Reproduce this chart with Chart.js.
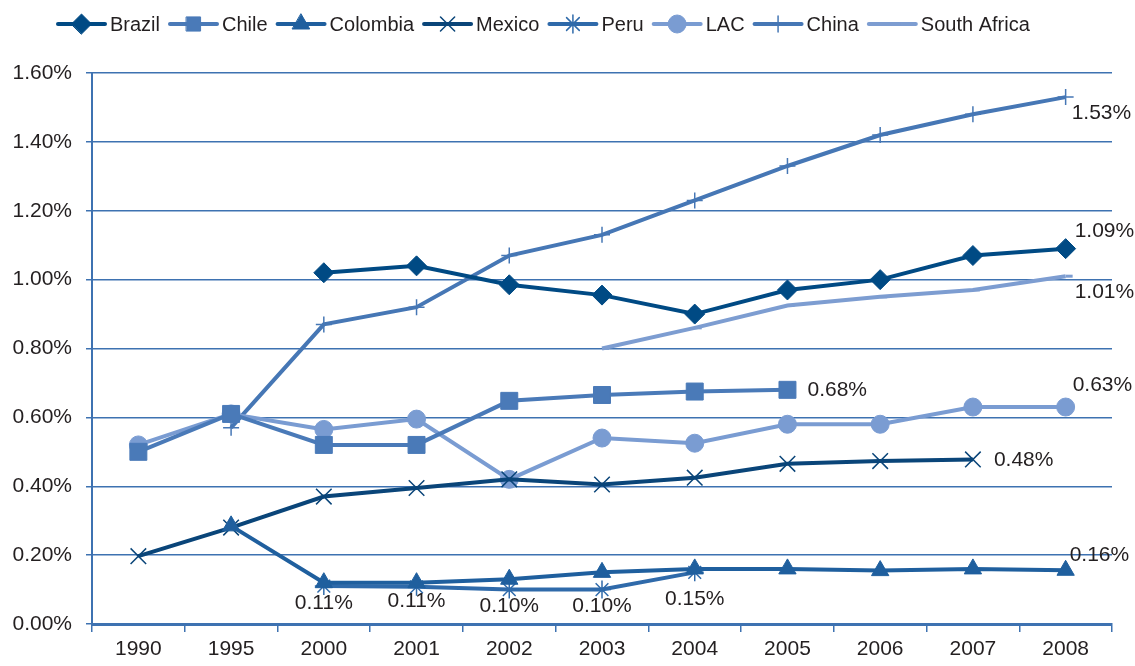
<!DOCTYPE html>
<html>
<head>
<meta charset="utf-8">
<script src="https://cdn.jsdelivr.net/npm/chart.js@4/dist/chart.umd.min.js"></script>
<style>
  html, body { margin: 0; padding: 0; background: #fff; }
  #wrap { width: 1135px; height: 666px; }
</style>
</head>
<body>
<div id="wrap"><canvas id="c" width="1135" height="666"></canvas></div>
<script>
const years = ['1990', '1995', '2000', '2001', '2002', '2003', '2004', '2005', '2006', '2007', '2008'];

const brazil      = [null, null, 1.02, 1.04, 0.985, 0.955, 0.90, 0.97, 1.00, 1.07, 1.09];
const chile       = [0.50, 0.61, 0.52, 0.52, 0.648, 0.665, 0.675, 0.68, null, null, null];
const colombia    = [null, 0.285, 0.12, 0.12, 0.13, 0.15, 0.16, 0.16, 0.155, 0.16, 0.156];
const mexico      = [0.197, 0.28, 0.37, 0.395, 0.42, 0.405, 0.425, 0.465, 0.473, 0.478, null];
const peru        = [null, null, 0.11, 0.108, 0.10, 0.10, 0.15, null, null, null, null];
const lac         = [0.52, 0.61, 0.565, 0.595, 0.42, 0.54, 0.525, 0.58, 0.58, 0.63, 0.63];
const china       = [null, 0.57, 0.87, 0.92, 1.07, 1.13, 1.23, 1.33, 1.42, 1.48, 1.53];
const southAfrica = [null, null, null, null, null, 0.80, 0.86, 0.925, 0.95, 0.97, 1.01];

const yTicks = [0, 0.2, 0.4, 0.6, 0.8, 1.0, 1.2, 1.4, 1.6];

const FONT = '"Liberation Sans", Arial, sans-serif';
const GRID = '#3e72b1';

function series(label, data, color, style, radius, pbw) {
  return {
    label, data,
    borderColor: color,
    backgroundColor: color,
    borderWidth: 4,
    pointStyle: style,
    pointRadius: radius,
    pointHoverRadius: radius,
    pointBackgroundColor: color,
    pointBorderColor: color,
    pointBorderWidth: pbw,
    tension: 0,
    spanGaps: false
  };
}

const datasets = [
  series('Brazil', brazil, '#004a84', 'rectRot', 10, 1),
  series('Chile', chile, '#4a7ab8', 'rect', 12, 1),
  series('Colombia', colombia, '#1f5f9e', 'triangle', 10, 1),
  series('Mexico', mexico, '#0a4579', 'crossRot', 11, 1.5),
  series('Peru', peru, '#2f6aaa', 'star', 9, 1.5),
  series('LAC', lac, '#7a9cd2', 'circle', 9, 1),
  series('China', china, '#4677b5', 'cross', 8, 1.5),
  series('South Africa', southAfrica, '#7d9dd1', 'dash', 7, 3)
];

// value labels: dataset index, category index, offset from the point
const valueLabels = [
  { ds: 6, i: 10, dx: 6, dy: 16, align: 'left' },
  { ds: 0, i: 10, dx: 9, dy: -17, align: 'left' },
  { ds: 7, i: 10, dx: 9, dy: 16, align: 'left' },
  { ds: 1, i: 7, dx: 20, dy: 0, align: 'left' },
  { ds: 5, i: 10, dx: 7, dy: -22, align: 'left' },
  { ds: 3, i: 9, dx: 21, dy: 1, align: 'left' },
  { ds: 2, i: 10, dx: 4, dy: -15, align: 'left' },
  { ds: 4, i: 2, dx: 0, dy: 17, align: 'center' },
  { ds: 4, i: 3, dx: 0, dy: 14, align: 'center' },
  { ds: 4, i: 4, dx: 0, dy: 17, align: 'center' },
  { ds: 4, i: 5, dx: 0, dy: 17, align: 'center' },
  { ds: 4, i: 6, dx: 0, dy: 27, align: 'center' }
];

const labelPlugin = {
  id: 'valueLabels',
  afterDatasetsDraw(chart) {
    const ctx = chart.ctx;
    ctx.save();
    ctx.font = '21px ' + FONT;
    ctx.fillStyle = '#231f20';
    ctx.textBaseline = 'middle';
    valueLabels.forEach(l => {
      const pt = chart.getDatasetMeta(l.ds).data[l.i];
      const v = chart.data.datasets[l.ds].data[l.i];
      ctx.textAlign = l.align;
      ctx.fillText(v.toFixed(2) + '%', pt.x + l.dx, pt.y + l.dy);
    });
    ctx.restore();
  }
};

// legend drawn as line + marker like the original
const legendPlugin = {
  id: 'lineLegend',
  afterDraw(chart) {
    const ctx = chart.ctx;
    ctx.save();
    ctx.font = '20px ' + FONT;
    ctx.textBaseline = 'middle';
    const lineLen = 47, gap = 5, itemGap = 10, y = 24;
    let x = 58;
    chart.data.datasets.forEach(d => {
      ctx.strokeStyle = d.borderColor;
      ctx.lineWidth = 4;
      ctx.lineCap = 'round';
      ctx.beginPath();
      ctx.moveTo(x, y);
      ctx.lineTo(x + lineLen, y);
      ctx.stroke();
      ctx.fillStyle = d.pointBackgroundColor;
      ctx.strokeStyle = d.pointBorderColor;
      ctx.lineWidth = d.pointBorderWidth;
      if (Chart.helpers && Chart.helpers.drawPoint) {
        const r = Math.min(d.pointRadius, 10);
        Chart.helpers.drawPoint(ctx, { pointStyle: d.pointStyle, radius: r, rotation: 0, borderWidth: d.pointBorderWidth }, x + lineLen / 2, y);
      }
      ctx.fillStyle = '#231f20';
      ctx.textAlign = 'left';
      ctx.fillText(d.label, x + lineLen + gap, y + 1);
      x += lineLen + gap + ctx.measureText(d.label).width + itemGap;
    });
    ctx.restore();
  }
};

new Chart(document.getElementById('c'), {
  type: 'line',
  data: { labels: years, datasets },
  options: {
    responsive: false,
    animation: false,
    layout: { padding: { top: 73, right: 23, left: 0, bottom: 0 } },
    plugins: {
      legend: { display: false },
      tooltip: { enabled: false }
    },
    scales: {
      x: {
        offset: true,
        grid: { offset: true, drawOnChartArea: false, drawTicks: true, tickLength: 8, color: GRID, lineWidth: 1.5 },
        border: { display: true, color: GRID, width: 3 },
        ticks: { color: '#231f20', font: { family: FONT, size: 21 }, padding: 5, maxRotation: 0 },
        afterFit(s) { s.height = 42; }
      },
      y: {
        min: 0, max: 1.6,
        afterBuildTicks(s) { s.ticks = yTicks.map(v => ({ value: v })); },
        grid: { color: GRID, lineWidth: 1.5, drawTicks: true, tickLength: 6 },
        border: { display: true, color: GRID, width: 2 },
        ticks: {
          color: '#231f20', font: { family: FONT, size: 21 }, padding: 14,
          callback: v => v.toFixed(2) + '%'
        },
        afterFit(s) { s.width = 92; }
      }
    }
  },
  plugins: [labelPlugin, legendPlugin]
});
</script>
</body>
</html>
